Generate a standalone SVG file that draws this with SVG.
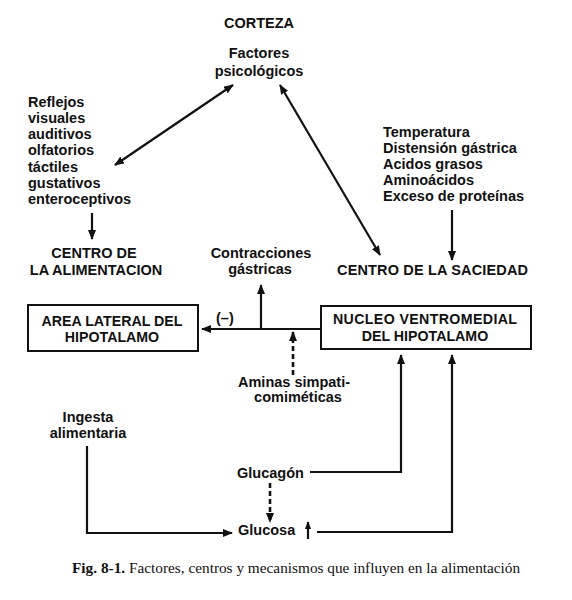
<svg xmlns="http://www.w3.org/2000/svg" width="572" height="600" viewBox="0 0 572 600">
<style>
text{font-family:"Liberation Sans",Arial,sans-serif;font-size:14.5px;font-weight:bold;fill:#111}
.c{text-anchor:middle}
.bt{font-size:14.2px}
.box{fill:#fff;stroke:#111;stroke-width:2}
.ln{fill:none;stroke:#111;stroke-width:2.2}
.ds{fill:none;stroke:#111;stroke-width:2.6;stroke-dasharray:5 3}
.cap{font-family:"Liberation Serif","Times New Roman",serif;font-size:15.3px;font-weight:normal}
</style>
<defs>
<marker id="ah" viewBox="0 0 10 8" refX="9" refY="4" markerWidth="10" markerHeight="8" markerUnits="userSpaceOnUse" orient="auto-start-reverse">
<path d="M0,0 L10,4 L0,8 z" fill="#111"/>
</marker>
<marker id="ahs" viewBox="0 0 10 8" refX="9" refY="4" markerWidth="8" markerHeight="7" markerUnits="userSpaceOnUse" orient="auto">
<path d="M0,0 L10,4 L0,8 z" fill="#111"/>
</marker>
</defs>
<rect width="572" height="600" fill="#fff"/>
<g id="corteza"><text class="c" x="259" y="28">CORTEZA</text></g>
<g id="factores"><text class="c" x="259" y="58">Factores</text><text class="c" x="259" y="76">psicológicos</text></g>
<g id="reflejos">
<text x="28" y="107">Reflejos</text>
<text x="28" y="123">visuales</text>
<text x="28" y="139">auditivos</text>
<text x="28" y="155">olfatorios</text>
<text x="28" y="172">táctiles</text>
<text x="28" y="188">gustativos</text>
<text x="28" y="204">enteroceptivos</text>
</g>
<g id="estimulos">
<text x="383" y="137">Temperatura</text>
<text x="383" y="153">Distensión gástrica</text>
<text x="383" y="169">Acidos grasos</text>
<text x="383" y="185">Aminoácidos</text>
<text x="383" y="201">Exceso de proteínas</text>
</g>
<g id="centro-alimentacion"><text class="c" x="94" y="258">CENTRO DE</text><text class="c" x="96" y="275">LA ALIMENTACION</text></g>
<g id="contracciones"><text class="c" x="261" y="258">Contracciones</text><text class="c" x="260" y="274">gástricas</text></g>
<g id="centro-saciedad"><text x="337" y="275" textLength="191">CENTRO DE LA SACIEDAD</text></g>
<g id="area-lateral"><rect class="box" x="28" y="305" width="170" height="46"/><text class="c bt" x="112" y="326">AREA LATERAL DEL</text><text class="c bt" x="112" y="342">HIPOTALAMO</text></g>
<g id="nucleo-ventromedial"><rect class="box" x="321" y="306" width="210" height="43"/><text class="c bt" x="425" y="324" textLength="184">NUCLEO VENTROMEDIAL</text><text class="c bt" x="425" y="341">DEL HIPOTALAMO</text></g>
<g id="menos"><text x="216" y="323">(–)</text></g>
<g id="aminas"><text class="c" x="294" y="387">Aminas simpati-</text><text class="c" x="298" y="402">comiméticas</text></g>
<g id="ingesta"><text class="c" x="88" y="422">Ingesta</text><text class="c" x="88" y="438">alimentaria</text></g>
<g id="glucagon"><text x="237" y="478">Glucagón</text></g>
<g id="glucosa"><text x="238" y="535">Glucosa</text><line class="ln" x1="308" y1="539" x2="308" y2="522" marker-end="url(#ahs)"/></g>
<g id="connectors">
<line class="ln" x1="233" y1="85" x2="115" y2="165" marker-start="url(#ah)" marker-end="url(#ah)"/>
<line class="ln" x1="280" y1="85" x2="380" y2="255" marker-start="url(#ah)" marker-end="url(#ah)"/>
<line class="ln" x1="92" y1="213" x2="92" y2="239" marker-end="url(#ah)"/>
<line class="ln" x1="452" y1="210" x2="452" y2="260" marker-end="url(#ah)"/>
<line class="ln" x1="321" y1="329" x2="202" y2="329" marker-end="url(#ah)"/>
<line class="ln" x1="261" y1="329" x2="261" y2="285" marker-end="url(#ah)"/>
<line class="ds" x1="293" y1="375" x2="293" y2="332" marker-end="url(#ah)"/>
<polyline class="ln" points="310,472 401,472 401,355" marker-end="url(#ah)"/>
<polyline class="ln" points="317,532 452,532 452,355" marker-end="url(#ah)"/>
<polyline class="ln" points="87,446 87,533 232,533" marker-end="url(#ah)"/>
<line class="ds" x1="270" y1="483" x2="270" y2="522" marker-end="url(#ah)"/>
</g>
<g id="caption"><text class="cap" x="72" y="573"><tspan font-weight="bold">Fig. 8-1.</tspan> Factores, centros y mecanismos que influyen en la alimentación</text></g>
</svg>
